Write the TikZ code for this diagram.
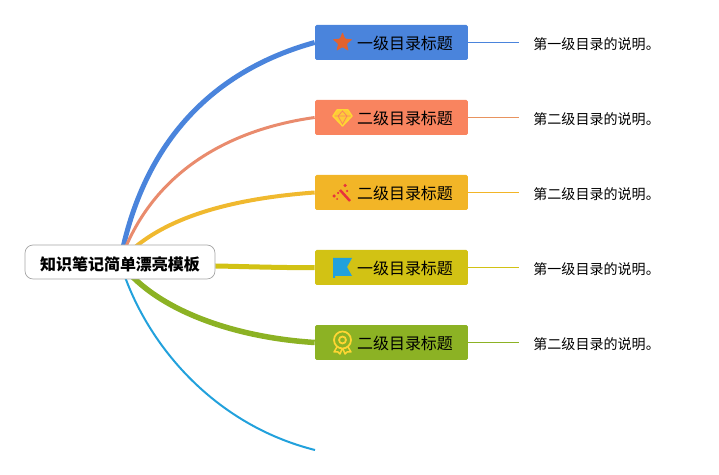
\documentclass[tikz,border=0pt]{standalone}
\usepackage{fontspec}
\setmainfont{Noto Sans CJK SC}
\usetikzlibrary{backgrounds,shapes.geometric}
\definecolor{blueline}{HTML}{4A84DC}
\definecolor{orangeline}{HTML}{E98B6D}
\definecolor{orangebox}{HTML}{F9845F}
\definecolor{orangenote}{HTML}{E8935F}
\definecolor{yellowline}{HTML}{F0B92F}
\definecolor{yellowbox}{HTML}{F2B527}
\definecolor{oliveline}{HTML}{D2C214}
\definecolor{greenline}{HTML}{8CB224}
\definecolor{cyanline}{HTML}{22A1DC}
\definecolor{icongold}{HTML}{FFD633}
\definecolor{iconstar}{HTML}{E2622E}
\definecolor{iconred}{HTML}{E8323C}
\tikzset{
	rootbox/.style={draw=black!35,fill=white,rounded corners=0.16cm,minimum width=3.8cm,minimum height=0.68cm,inner sep=0pt,text height=0.38cm,text depth=0.04cm,font=\fontsize{9.1pt}{11pt}\selectfont\bfseries},
	titlebox/.style={fill=#1,rounded corners=0.03cm,minimum width=3.06cm,minimum height=0.7cm,inner sep=0pt,text height=0.34cm,text depth=0.04cm,font=\fontsize{9.1pt}{11pt}\selectfont},
	notebox/.style={anchor=west,inner sep=0pt,inner xsep=0.28cm,text height=0.34cm,text depth=0.04cm,font=\fontsize{8pt}{10pt}\selectfont},
}
\begin{document}
\begin{tikzpicture}[x=0.02cm,y=-0.02cm]
	\useasboundingbox (0,0) rectangle (719,475);
	\node[rootbox] (root) at (120,262) {知识笔记简单漂亮模板};
	\node[titlebox=blueline] (title1) at (391.5,42.5) {\hspace{0.54cm}一级目录标题};
	\node[titlebox=orangebox] (title2) at (391.5,117.5) {\hspace{0.54cm}二级目录标题};
	\node[titlebox=yellowbox] (title3) at (391.5,192.5) {\hspace{0.54cm}二级目录标题};
	\node[titlebox=oliveline] (title4) at (391.5,267.5) {\hspace{0.54cm}一级目录标题};
	\node[titlebox=greenline] (title5) at (391.5,342.5) {\hspace{0.54cm}二级目录标题};
	\node[notebox] (note1) at (519,42.5) {第一级目录的说明。};
	\node[notebox] (note2) at (519,117.5) {第二级目录的说明。};
	\node[notebox] (note3) at (519,192.5) {第二级目录的说明。};
	\node[notebox] (note4) at (519,267.5) {第一级目录的说明。};
	\node[notebox] (note5) at (519,342.5) {第二级目录的说明。};
	\coordinate (lastend) at (315,450);
	\begin{scope}[on background layer]
		\draw[blueline,line width=0.1cm] (root.center) .. controls (143,140) and (215,70) .. (title1.west);
		\draw[orangeline,line width=0.06cm] (root.center) .. controls (150,175) and (225,130) .. (title2.west);
		\draw[yellowline,line width=0.08cm] (root.center) .. controls (160,215) and (240,198) .. (title3.west);
		\draw[oliveline,line width=0.1cm] ([yshift=-0.08cm]root.east) .. controls (245,266.5) and (285,268) .. (title4.west);
		\draw[greenline,line width=0.11cm] (root.center) .. controls (152,307) and (228,337) .. (title5.west);
		\draw[cyanline,line width=0.04cm] (root.center) .. controls (145,345) and (215,425) .. (lastend);
	\end{scope}
	\draw[blueline,line width=0.02cm] (title1.east) -- (note1.west);
	\draw[orangenote,line width=0.02cm] (title2.east) -- (note2.west);
	\draw[yellowbox,line width=0.02cm] (title3.east) -- (note3.west);
	\draw[oliveline,line width=0.02cm] (title4.east) -- (note4.west);
	\draw[greenline,line width=0.02cm] (title5.east) -- (note5.west);
	% icons
	\node[star,star points=5,star point ratio=2.3,fill=iconstar,rounded corners=0.02cm,minimum size=0.42cm,inner sep=0pt] (staricon) at (342.5,42.5) {};
	\draw[icongold,fill=icongold!85!orangebox,line width=0.03cm,line join=round] (337,110) -- (348,110) -- (352,116) -- (342.5,126) -- (333,116) -- cycle;
	\draw[orangebox,line width=0.015cm] (334.5,116) -- (350.5,116) (338,116) -- (342.5,124) -- (347,116) -- (342.5,111) -- (338,116);
	\draw[iconred,line width=0.05cm] (340,190) -- (350,201);
	\fill[iconred] (334,196) circle (0.035cm) (338,193) circle (0.025cm) (345,185.5) circle (0.035cm) (347,191) circle (0.025cm) (337,199) circle (0.02cm);
	\fill[cyanline] (333,258) -- (352,258) -- (347,267) -- (352,276) -- (335,276) -- (335,278) -- (333,278) -- cycle;
	\draw[icongold,line width=0.035cm] (342.5,340) circle (0.17cm) (342.5,340) circle (0.07cm);
	\draw[icongold,line width=0.03cm,line join=round] (337,347) -- (334,352) -- (338,352) -- (340,354) -- (342,349) (343,349) -- (345,354) -- (347,352) -- (351,352) -- (348,347);
\end{tikzpicture}
\end{document}
